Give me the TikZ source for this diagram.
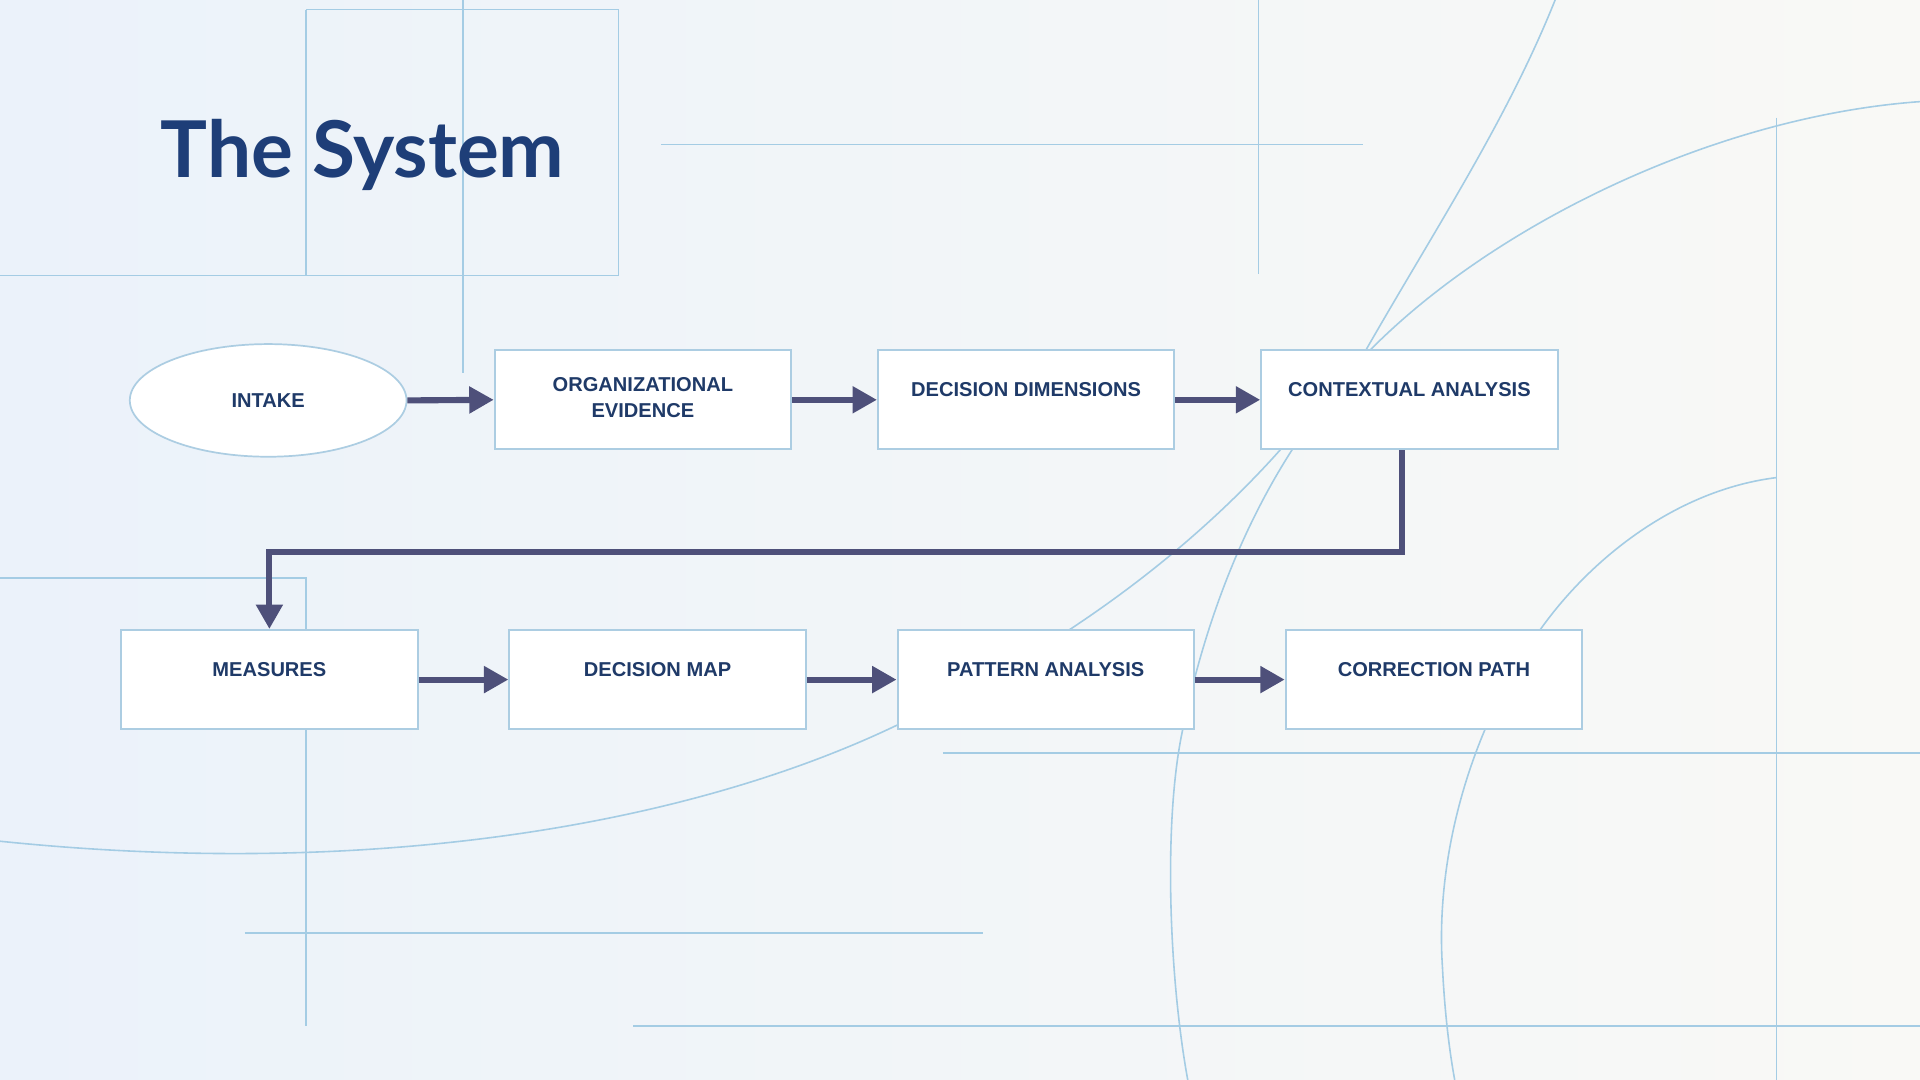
\documentclass[tikz,border=0pt]{standalone}
\usepackage{fontspec}
\setmainfont{Liberation Sans}
\newfontfamily\titlefont{Lato}
\usetikzlibrary{arrows.meta,shapes.geometric}
\definecolor{bgblue}{RGB}{235,242,250}
\definecolor{bgwarm}{RGB}{249,249,246}
\definecolor{deco}{RGB}{164,204,228}
\definecolor{navy}{RGB}{31,58,104}
\definecolor{titleblue}{RGB}{30,62,120}
\definecolor{arrowc}{RGB}{78,80,122}
\definecolor{boxline}{RGB}{172,205,226}
\begin{document}
\begin{tikzpicture}[x=1pt,y=-1pt,
  deco/.style={draw=deco,line width=1.1pt},
  decoarc/.style={draw=deco,line width=1.3pt},
  stepbox/.style={draw=boxline,fill=white,line width=1.6pt,minimum width=242pt,
    inner sep=0pt,font=\fontsize{16.4}{21}\selectfont\bfseries,text=navy},
  ovalbox/.style={draw=boxline,fill=white,line width=1.4pt,ellipse,
    minimum width=226pt,minimum height=92pt,inner sep=0pt,
    font=\fontsize{16.4}{21}\selectfont\bfseries,text=navy},
  conn/.style={draw=arrowc,line width=5pt,line join=miter,
    -{Triangle[length=20pt,width=21pt]}},
]
\useasboundingbox (0,0) rectangle (1568,882);
\fill[left color=bgblue,right color=bgwarm] (0,0) rectangle (1568,882);

% decorative straight lines
\draw[deco] (250,8) -- (505,8) -- (505,225);
\draw[deco] (0,225) -- (505,225);
\draw[deco] (250,8) -- (250,225);
\draw[deco] (378,0) -- (378,305);
\draw[deco] (540,118) -- (1113,118);
\draw[deco] (1028,0) -- (1028,224);
\draw[deco] (1451,96) -- (1451,882);
\draw[deco] (770,615) -- (1568,615);
\draw[deco] (517,838) -- (1568,838);
\draw[deco] (0,472) -- (250,472) -- (250,838);
\draw[deco] (200,762) -- (803,762);

% decorative arcs (joints hidden behind the boxes)
\draw[decoarc] (1568,83) .. controls (1400,95) and (1215,185) .. (1113,292)
  -- (1052,360)
  .. controls (1000,420) and (900,515) .. (733,592)
  .. controls (560,675) and (300,718) .. (0,687);
\draw[decoarc] (1270,0) .. controls (1230,100) and (1170,190) .. (1112,292)
  -- (1060,360)
  .. controls (1020,420) and (985,500) .. (965,600)
  .. controls (950,675) and (955,800) .. (970,882);
\draw[decoarc] (1451,390) .. controls (1370,400) and (1300,455) .. (1258,514)
  .. controls (1200,596) and (1172,700) .. (1178,790)
  .. controls (1180,830) and (1184,860) .. (1188,882);

% title
\node[anchor=base west,inner sep=0pt,text=titleblue,
  font=\titlefont\bfseries\fontsize{64}{70}\selectfont] (title) at (131,145) {The System};

% nodes
\node[ovalbox] (intake) at (219,327) {INTAKE};
\node[stepbox] (org) at (525,326.5) {\raisebox{0pt}[55pt][26pt]{\begin{tabular}[b]{@{}c@{}}ORGANIZATIONAL\\EVIDENCE\end{tabular}}};
\node[stepbox] (dd) at (838,326.5) {\raisebox{0pt}[38pt][43pt]{DECISION DIMENSIONS}};
\node[stepbox] (ca) at (1151,326.5) {\raisebox{0pt}[38pt][43pt]{CONTEXTUAL ANALYSIS}};
\node[stepbox] (meas) at (220,555) {\raisebox{0pt}[38pt][43pt]{MEASURES}};
\node[stepbox] (dm) at (537,555) {\raisebox{0pt}[38pt][43pt]{DECISION MAP}};
\node[stepbox] (pa) at (854,555) {\raisebox{0pt}[38pt][43pt]{PATTERN ANALYSIS}};
\node[stepbox] (cp) at (1171,555) {\raisebox{0pt}[38pt][43pt]{CORRECTION PATH}};

% connectors
\draw[conn] (intake.east) -- (org.west);
\draw[conn] (org.east) -- (dd.west);
\draw[conn] (dd.east) -- (ca.west);
\coordinate (turn) at (1145,451);
\draw[conn] ([xshift=-6pt]ca.south) -- (turn) -| (meas.north);
\draw[conn] (meas.east) -- (dm.west);
\draw[conn] (dm.east) -- (pa.west);
\draw[conn] (pa.east) -- (cp.west);
\end{tikzpicture}
\end{document}
